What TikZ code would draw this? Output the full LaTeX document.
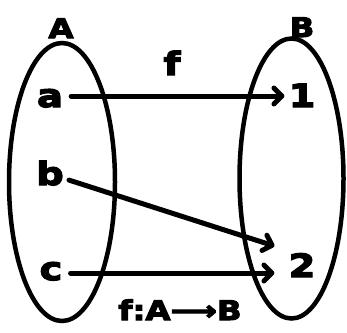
\documentclass[tikz,border=0pt]{standalone}
\usepackage{fontspec}
\setmainfont{DejaVu Sans}
\newfontfamily\heavy[FakeStretch=1.2,FakeBold=4]{DejaVu Sans Bold}
\usetikzlibrary{arrows.meta,shapes.geometric}
\begin{document}
\begin{tikzpicture}[x=1pt,y=-1pt,
  setshape/.style={draw=black, line width=4.5pt, ellipse, inner sep=0pt, minimum width=#1},
  lower/.style={inner sep=0pt, anchor=base, font=\heavy\fontsize{32}{32}\selectfont},
  upper/.style={inner sep=0pt, anchor=base, font=\heavy\fontsize{27}{27}\selectfont},
  digit/.style={inner sep=0pt, anchor=base, font=\heavy\fontsize{32}{32}\selectfont},
  maparrow/.style={line width=5pt, line cap=round, -{Straight Barb[length=8pt,width=16pt,round]}}]
\useasboundingbox (0,0) rectangle (347,332);
\fill[white] (0,0) rectangle (347,332);
% sets
\node[setshape=106pt, minimum height=278pt] (setA) at (62,182) {};
\node[setshape=104pt, minimum height=280pt] (setB) at (291.5,178.5) {};
% set labels
\node[upper] (labA) at (61,38) {A};
\node[upper] (labB) at (302,37) {B};
\node[lower] (labf) at (172,75) {f};
% elements
\node[lower] (a) at (50,107) {a};
\node[lower] (b) at (50,185) {b};
\node[lower] (c) at (51,280) {c};
\node[digit] (one) at (302,107) {1};
\node[digit] (two) at (302,277) {2};
% caption
\node[upper] (cap) at (180,320) {f:A⟶B};
% arrows
\draw[maparrow] ([shift={(8,0)}]a.east |- 0,96) -- ([shift={(-4,0)}]one.west |- 0,96);
\draw[maparrow] ([shift={(5,7)}]b.east) -- ([shift={(-14,-7)}]two.north west);
\draw[maparrow] ([shift={(8,0)}]c.east |- 0,273) -- ([shift={(-14,0)}]two.west |- 0,273);
\end{tikzpicture}
\end{document}
